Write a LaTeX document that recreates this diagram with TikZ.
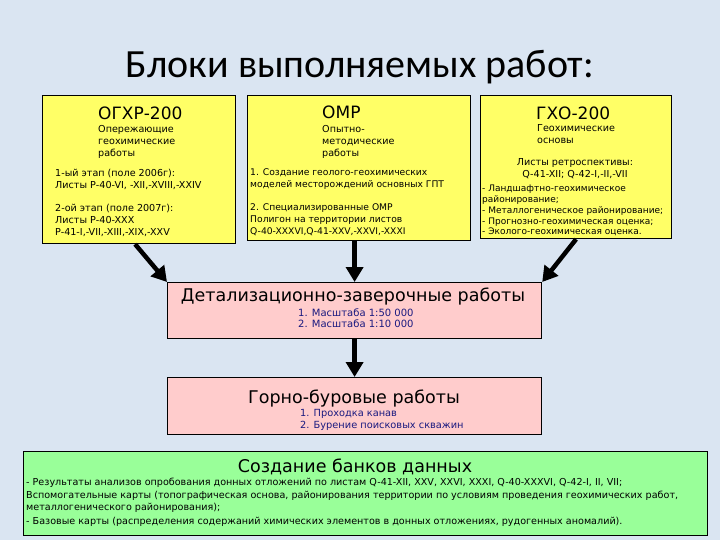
\documentclass[tikz,border=0pt]{standalone}
\usepackage{xcolor}
\usepackage{fontspec}
\setmainfont{DejaVu Sans}
\newfontfamily\slidetitlefont{Carlito}
\usetikzlibrary{arrows.meta,positioning}

\definecolor{slidebg}{HTML}{DAE5F2}
\definecolor{blockyellow}{HTML}{FFFF66}
\definecolor{blockpink}{HTML}{FFCCCC}
\definecolor{blockgreen}{HTML}{99FF99}
\definecolor{listnavy}{HTML}{1A1A80}

\begin{document}
\begin{tikzpicture}[
  x=1pt, y=-1pt,
  block/.style={draw, line width=1.2pt, anchor=north west, inner sep=0pt},
  hd/.style={font=\fontsize{17}{17}\selectfont, anchor=base west, inner sep=0pt},
  bighd/.style={font=\fontsize{17.5}{17.5}\selectfont, anchor=base, inner sep=0pt},
  note/.style={font=\fontsize{9.6}{12}\selectfont, align=left, anchor=north west, inner sep=0pt},
  arrow/.style={-{Triangle[length=15pt,width=17pt]}, line width=4.5pt}
]
\fill[slidebg] (0,0) rectangle (720,540);
\useasboundingbox (0,0) rectangle (720,540);

\node[font=\slidetitlefont\fontsize{40}{40}\selectfont, anchor=base, inner sep=0pt]
  (title) at (360,78) {Блоки выполняемых работ:};

% three upper blocks
\node[block, fill=blockyellow, minimum width=193pt, minimum height=148pt] (ogxr) at (42,95) {};
\node[block, fill=blockyellow, minimum width=223pt, minimum height=145pt] (omr) at (247,95) {};
\node[block, fill=blockyellow, minimum width=191pt, minimum height=143pt] (gxo) at (480,95) {};

\node[hd] (ogxr-name) at (98,120) {ОГХР-200};
\node[note] (ogxr-sub) at (98,125) {Опережающие\\геохимические\\работы};
\node[note] (ogxr-list) at (55,169) {1-ый этап (поле 2006г):\\Листы Р-40-VI, -XII,-XVIII,-XXIV\\[11pt]
  2-ой этап (поле 2007г):\\Листы Р-40-XXX\\P-41-I,-VII,-XIII,-XIX,-XXV};

\node[hd] (omr-name) at (322,119) {ОМР};
\node[note] (omr-sub) at (322,125) {Опытно-\\методические\\работы};
\node[note, font=\fontsize{9.2}{12}\selectfont] (omr-list) at (250,168) {1. Создание геолого-геохимических\\моделей месторождений основных ГПТ\\[11pt]
  2. Специализированные ОМР\\Полигон на территории листов\\Q-40-XXXVI,Q-41-XXV,-XXVI,-XXXI};

\node[hd] (gxo-name) at (536,120) {ГХО-200};
\node[note] (gxo-sub) at (537,124) {Геохимические\\основы};
\node[note, align=center, anchor=north] (gxo-sheets) at (575,158) {Листы ретроспективы:\\Q-41-XII; Q-42-I,-II,-VII};
\node[note, font=\fontsize{9}{10.8}\selectfont] (gxo-list) at (482,185) {- Ландшафтно-геохимическое\\районирование;\\
  - Металлогеническое районирование;\\- Прогнозно-геохимическая оценка;\\- Эколого-геохимическая оценка.};

% lower blocks
\node[block, fill=blockpink, minimum width=374pt, minimum height=56pt] (detal) at (167,282) {};
\node[bighd] (detal-name) at (353,301) {Детализационно-заверочные работы};
\node[note, text=listnavy, font=\fontsize{10}{10.5}\selectfont] (detal-list) at (298,309) {1. Масштаба 1:50 000\\2. Масштаба 1:10 000};

\node[block, fill=blockpink, minimum width=374pt, minimum height=57pt] (gorno) at (167,377) {};
\node[bighd] (gorno-name) at (354,403) {Горно-буровые работы};
\node[note, text=listnavy, font=\fontsize{9.8}{12.5}\selectfont] (gorno-list) at (300,409) {1. Проходка канав\\2. Бурение поисковых скважин};

\node[block, fill=blockgreen, minimum width=684pt, minimum height=84pt] (banks) at (23,451) {};
\node[bighd] (banks-name) at (355,472) {Создание банков данных};
\node[note, font=\fontsize{9.6}{12.5}\selectfont] (banks-list) at (26,478) {- Результаты анализов опробования донных отложений по листам Q-41-XII, XXV, XXVI, XXXI, Q-40-XXXVI, Q-42-I, II, VII;\\
  Вспомогательные карты (топографическая основа, районирования территории по условиям проведения геохимических работ,\\
  металлогенического районирования);\\[1pt]
  - Базовые карты (распределения содержаний химических элементов в  донных отложениях, рудогенных аномалий).};

\draw[arrow] ([xshift=-4pt]ogxr.south) -- (detal.north west);
\draw[arrow] (detal.north |- omr.south) -- (detal.north);
\draw[arrow] (gxo.south) -- (detal.north east);
\draw[arrow] (detal.south) -- (gorno.north);
\end{tikzpicture}
\end{document}
